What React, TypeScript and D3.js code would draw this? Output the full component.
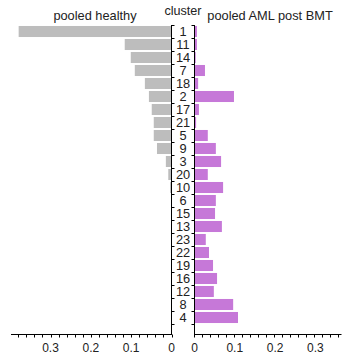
import React from "react";
import * as d3 from "d3";

const clusters = ["1","11","14","7","18","2","17","21","5","9","3","20","10","6","15","13","23","22","19","16","12","8","4"];
const healthy = [0.379,0.116,0.101,0.091,0.066,0.056,0.049,0.044,0.044,0.036,0.014,0.008,0.0035,0,0,0,0,0,0,0,0,0,0];
const aml = [0.006,0.006,0.003,0.026,0.009,0.098,0.011,0.004,0.033,0.053,0.066,0.033,0.071,0.053,0.051,0.068,0.028,0.036,0.046,0.056,0.048,0.096,0.108];
const majorTicks = [0, 0.1, 0.2, 0.3];
const tickFmt = (v: number) => (v === 0 ? "0" : d3.format(".1f")(v));

const W = 346, H = 354;
const FONT = "'Liberation Sans', Arial, sans-serif";

export default function App() {
  const xL = d3.scaleLinear().domain([0, 0.398]).range([171.5, 11]);
  const xR = d3.scaleLinear().domain([0, 0.365]).range([194.5, 341.5]);
  const y = d3.scaleBand<string>().domain(clusters).range([25, 324]).paddingInner(0.15).paddingOuter(0.075);
  const axisY = 334.5;
  const minorL = d3.range(0, 0.398, 0.02);
  const minorR = d3.range(0, 0.365, 0.02);
  const bounds = d3.range(0, clusters.length + 1).map((i) => 25 + i * y.step());

  return (
    <svg width={W} height={H} style={{ position: "absolute", left: 0, top: 0, background: "#fff" }} fontFamily={FONT}>
      {/* titles */}
      <text x={95} y={20} fontSize={12.8} textAnchor="middle" fill="#222">pooled healthy</text>
      <text x={183} y={15} fontSize={12.6} textAnchor="middle" fill="#222">cluster</text>
      <text x={270} y={19.5} fontSize={12.8} textAnchor="middle" fill="#222">pooled AML post BMT</text>

      {/* bars */}
      {clusters.map((c, i) => (
        <g key={c}>
          {healthy[i] > 0 && (
            <rect x={xL(healthy[i])} y={y(c)} width={xL(0) - xL(healthy[i])} height={y.bandwidth()} fill="#bdbdbd" />
          )}
          {aml[i] > 0 && (
            <rect x={xR(0)} y={y(c)} width={xR(aml[i]) - xR(0)} height={y.bandwidth()} fill="#c678d8" />
          )}
          <text x={183} y={(y(c) as number) + y.bandwidth() / 2} dy="0.36em" fontSize={12.8} textAnchor="middle" fill="#222">{c}</text>
        </g>
      ))}

      {/* vertical axes */}
      <line x1={171.5} x2={171.5} y1={25} y2={axisY + 0.5} stroke="#000" strokeWidth={1} />
      <line x1={194.5} x2={194.5} y1={25} y2={axisY + 0.5} stroke="#000" strokeWidth={1} />
      {bounds.map((b, i) => (
        <g key={"b" + i}>
          <line x1={171.5} x2={174.5} y1={Math.round(b) + 0.5} y2={Math.round(b) + 0.5} stroke="#000" strokeWidth={1} />
          <line x1={191.5} x2={194.5} y1={Math.round(b) + 0.5} y2={Math.round(b) + 0.5} stroke="#000" strokeWidth={1} />
        </g>
      ))}

      {/* bottom axes */}
      <line x1={11} x2={171.5} y1={axisY} y2={axisY} stroke="#000" strokeWidth={1} />
      <line x1={194.5} x2={341.5} y1={axisY} y2={axisY} stroke="#000" strokeWidth={1} />
      {minorL.map((v, i) => (
        <line key={"ml" + i} x1={Math.round(xL(v)) + 0.5} x2={Math.round(xL(v)) + 0.5} y1={axisY} y2={axisY + 3} stroke="#000" strokeWidth={1} />
      ))}
      {minorR.map((v, i) => (
        <line key={"mr" + i} x1={Math.round(xR(v)) - 0.5} x2={Math.round(xR(v)) - 0.5} y1={axisY} y2={axisY + 3} stroke="#000" strokeWidth={1} />
      ))}
      {majorTicks.map((v) => (
        <text key={"tl" + v} x={xL(v)} y={352} fontSize={12} textAnchor="middle" fill="#222">{tickFmt(v)}</text>
      ))}
      {majorTicks.map((v) => (
        <text key={"tr" + v} x={xR(v)} y={352} fontSize={12} textAnchor="middle" fill="#222">{tickFmt(v)}</text>
      ))}
    </svg>
  );
}
